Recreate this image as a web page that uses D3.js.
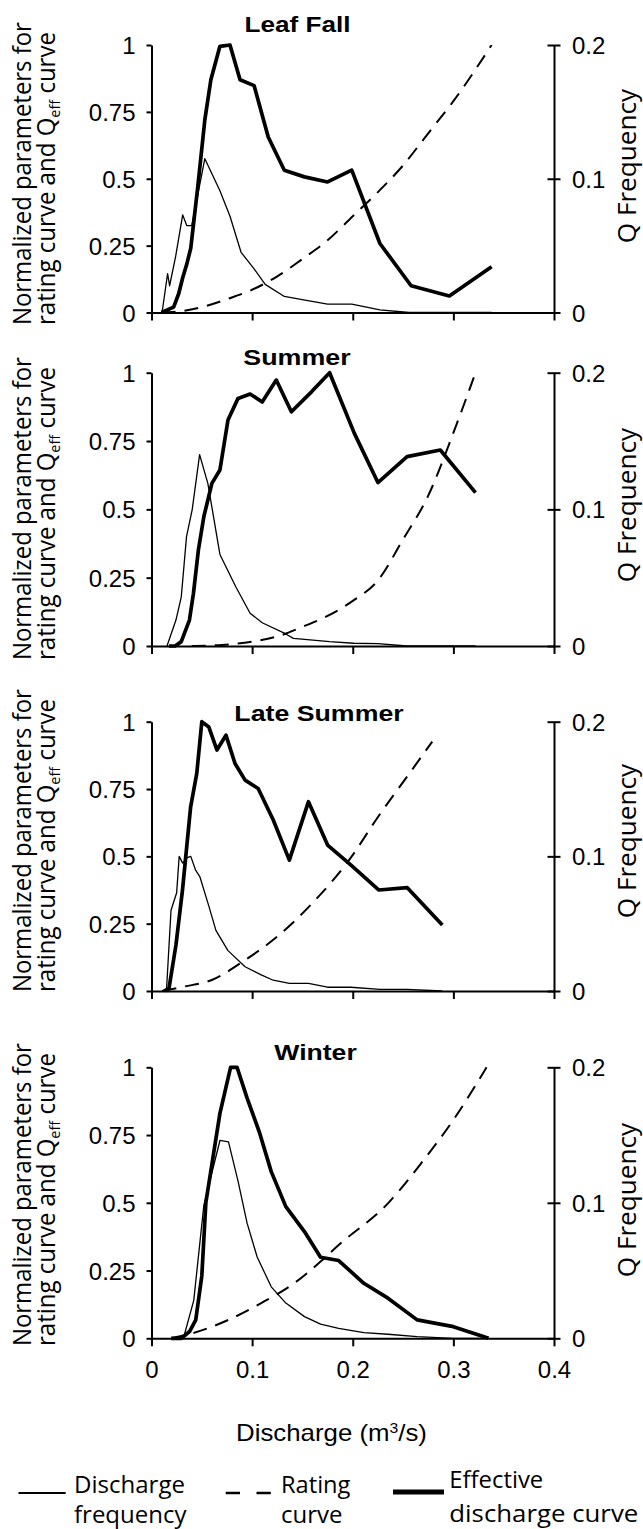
<!DOCTYPE html>
<html><head><meta charset="utf-8">
<script src="https://cdn.jsdelivr.net/npm/d3@7"></script>
<style>body{margin:0;background:#fff;} svg{display:block;}</style>
</head><body><svg id="c" width="643" height="1529"></svg>
<script>
// ---------- labels / ticks ----------
const seasons = ["Leaf Fall", "Summer", "Late Summer", "Winter"];
const xTicks = [0, 0.1, 0.2, 0.3, 0.4];
const xTickLabels = ["0", "0.1", "0.2", "0.3", "0.4"];
const yLeftTicks = [0, 0.25, 0.5, 0.75, 1];
const yLeftTickLabels = ["0", "0.25", "0.5", "0.75", "1"];
const yRightTicks = [0, 0.1, 0.2];
const yRightTickLabels = ["0", "0.1", "0.2"];
const legendLabels = [["Discharge", "frequency"], ["Rating", "curve"], ["Effective", "discharge curve"]];

// ---------- Leaf Fall ----------
const leafEffQ = [0.01, 0.022, 0.027, 0.031, 0.035, 0.039, 0.046, 0.053, 0.059, 0.068, 0.078, 0.088, 0.102, 0.116, 0.132, 0.152, 0.175, 0.199, 0.227, 0.258, 0.296, 0.338];
const leafEff  = [0, 0.02, 0.07, 0.13, 0.18, 0.24, 0.47, 0.72, 0.87, 0.995, 1.0, 0.87, 0.848, 0.656, 0.532, 0.507, 0.488, 0.532, 0.258, 0.1, 0.062, 0.171];
const leafFreqQ = [0.0105, 0.016, 0.018, 0.024, 0.031, 0.035, 0.040, 0.053, 0.068, 0.078, 0.089, 0.1016, 0.113, 0.132, 0.154, 0.175, 0.199, 0.227, 0.256, 0.338];
const leafFreq  = [0, 0.029, 0.020, 0.042, 0.073, 0.065, 0.065, 0.115, 0.091, 0.072, 0.045, 0.033, 0.021, 0.012, 0.009, 0.0062, 0.0062, 0.002, 0, 0];
const leafRateQ = [0.01, 0.03, 0.05, 0.075, 0.1, 0.125, 0.15, 0.175, 0.2, 0.225, 0.25, 0.275, 0.3, 0.338];
const leafRate  = [0, 0.005, 0.02, 0.05, 0.085, 0.135, 0.2, 0.27, 0.36, 0.45, 0.55, 0.67, 0.79, 1.0];

// ---------- Summer ----------
const sumEffQ = [0.0174, 0.0235, 0.0296, 0.0377, 0.0417, 0.0466, 0.052, 0.06, 0.068, 0.076, 0.086, 0.098, 0.110, 0.124, 0.139, 0.159, 0.177, 0.2016, 0.225, 0.254, 0.287, 0.322];
const sumEff  = [0, 0, 0.016, 0.095, 0.193, 0.351, 0.473, 0.595, 0.644, 0.827, 0.906, 0.922, 0.893, 0.973, 0.857, 0.93, 1.0, 0.778, 0.598, 0.693, 0.717, 0.561];
const sumFreqQ = [0.0154, 0.0243, 0.0296, 0.0348, 0.0405, 0.0478, 0.056, 0.068, 0.084, 0.098, 0.110, 0.133, 0.141, 0.177, 0.201, 0.225, 0.254, 0.322];
const sumFreq  = [0, 0.019, 0.036, 0.08, 0.1, 0.14, 0.119, 0.067, 0.043, 0.024, 0.017, 0.009, 0.0056, 0.0032, 0.002, 0.0017, 0, 0];
const sumRateQ = [0.04, 0.07, 0.1, 0.125, 0.15, 0.175, 0.2, 0.225, 0.25, 0.275, 0.3, 0.322];
const sumRate  = [0, 0.004, 0.016, 0.035, 0.07, 0.11, 0.165, 0.24, 0.39, 0.55, 0.78, 1.0];

// ---------- Late Summer ----------
const lateEffQ = [0.0134, 0.0174, 0.0243, 0.0308, 0.0389, 0.045, 0.050, 0.057, 0.065, 0.074, 0.083, 0.093, 0.106, 0.121, 0.137, 0.156, 0.175, 0.198, 0.226, 0.254, 0.289];
const lateEff  = [0, 0.01, 0.171, 0.375, 0.684, 0.808, 1.0, 0.98, 0.895, 0.95, 0.845, 0.783, 0.752, 0.635, 0.486, 0.703, 0.542, 0.468, 0.375, 0.384, 0.245];
const lateFreqQ = [0.0105, 0.015, 0.0194, 0.025, 0.0275, 0.031, 0.0356, 0.039, 0.0437, 0.048, 0.057, 0.064, 0.076, 0.093, 0.109, 0.121, 0.137, 0.156, 0.175, 0.198, 0.227, 0.254, 0.289];
const lateFreq  = [0, 0.002, 0.06, 0.073, 0.1, 0.095, 0.099, 0.1, 0.09, 0.085, 0.063, 0.045, 0.03, 0.018, 0.012, 0.008, 0.0056, 0.0056, 0.0028, 0.0028, 0.0012, 0.0012, 0];
const lateRateQ = [0.011, 0.032, 0.06, 0.093, 0.121, 0.158, 0.199, 0.223, 0.254, 0.279];
const lateRate  = [0, 0.016, 0.041, 0.115, 0.19, 0.319, 0.5, 0.635, 0.796, 0.926];

// ---------- Winter ----------
const winEffQ = [0.0195, 0.0297, 0.0378, 0.044, 0.050, 0.054, 0.068, 0.0786, 0.085, 0.095, 0.107, 0.119, 0.1335, 0.152, 0.168, 0.186, 0.211, 0.235, 0.264, 0.3, 0.335];
const winEff  = [0, 0, 0.025, 0.068, 0.23, 0.5, 0.83, 1.0, 1.0, 0.886, 0.763, 0.615, 0.486, 0.394, 0.299, 0.287, 0.203, 0.148, 0.068, 0.043, 0];
const winFreqQ = [0.0195, 0.032, 0.042, 0.052, 0.068, 0.0765, 0.086, 0.095, 0.105, 0.119, 0.1335, 0.152, 0.168, 0.186, 0.211, 0.235, 0.264, 0.3, 0.335];
const winFreq  = [0, 0.0008, 0.028, 0.098, 0.146, 0.145, 0.116, 0.085, 0.06, 0.038, 0.026, 0.016, 0.0104, 0.0074, 0.0042, 0.003, 0.0012, 0, 0];
const winRateQ = [0.0195, 0.04, 0.0765, 0.109, 0.1416, 0.168, 0.186, 0.235, 0.268, 0.3, 0.333];
const winRate  = [0, 0.018, 0.068, 0.13, 0.203, 0.283, 0.344, 0.498, 0.646, 0.806, 1.0];

const seriesBySeason = [
  {eff: [leafEffQ, leafEff], freq: [leafFreqQ, leafFreq], rate: [leafRateQ, leafRate]},
  {eff: [sumEffQ, sumEff], freq: [sumFreqQ, sumFreq], rate: [sumRateQ, sumRate]},
  {eff: [lateEffQ, lateEff], freq: [lateFreqQ, lateFreq], rate: [lateRateQ, lateRate]},
  {eff: [winEffQ, winEff], freq: [winFreqQ, winFreq], rate: [winRateQ, winRate]}
];

// ---------- layout (pixels) ----------
const layout = [
  {top: 45,     bottom: 312.5,  titleX: 297.5, titleY: 31.5,  titleW: 106, ytStart: 325,  qMid: 166},
  {top: 372.7,  bottom: 646,    titleX: 297,   titleY: 365,   titleW: 108, ytStart: 660,  qMid: 505},
  {top: 721.7,  bottom: 991,    titleX: 319,   titleY: 720.7, titleW: 170, ytStart: 992,  qMid: 841},
  {top: 1067.3, bottom: 1338.3, titleX: 315.5, titleY: 1060,  titleW: 83,  ytStart: 1346, qMid: 1200}
];
const X0 = 151.5, X1 = 554;
const ARIAL = "'Liberation Sans', Arial, Helvetica, sans-serif";
const MYRIAD = "'Open Sans', 'Noto Sans', sans-serif";

const svg = d3.select("#c");
const x = d3.scaleLinear().domain([0, 0.4]).range([X0, X1]);

function fit(sel, target) {
  const w = sel.node().getBBox().width;
  if (w > 0) sel.attr("transform", `scale(${target / w},1)`);
}
function styleAxis(g) {
  g.selectAll("path.domain").attr("stroke", "#000").attr("stroke-width", 2);
  g.selectAll(".tick line").attr("stroke", "#000").attr("stroke-width", 2);
  g.selectAll(".tick text").attr("fill", "#000")
    .style("font-family", ARIAL).style("font-size", "24px");
  g.attr("font-family", null).attr("font-size", null);
}

seasons.forEach((name, i) => {
  const L = layout[i];
  const s = seriesBySeason[i];
  const yL = d3.scaleLinear().domain([0, 1]).range([L.bottom, L.top]);
  const yR = d3.scaleLinear().domain([0, 0.2]).range([L.bottom, L.top]);
  const g = svg.append("g");

  // axes
  const ax = g.append("g").attr("transform", `translate(${X0},0)`)
    .call(d3.axisLeft(yL).tickValues(yLeftTicks).tickFormat((d, k) => yLeftTickLabels[k])
      .tickSize(5).tickSizeOuter(0).tickPadding(11));
  styleAxis(ax);
  ax.selectAll(".tick text").attr("dy", "0.36em");

  const ar = g.append("g").attr("transform", `translate(${X1},0)`)
    .call(d3.axisRight(yR).tickValues(yRightTicks).tickFormat((d, k) => yRightTickLabels[k])
      .tickSize(6.5).tickSizeOuter(0).tickPadding(12));
  styleAxis(ar);
  ar.selectAll(".tick line").attr("x1", -6.5).attr("x2", 6.5);
  ar.selectAll(".tick text").attr("x", 18).attr("dy", "0.36em");

  const ab = g.append("g").attr("transform", `translate(0,${L.bottom})`)
    .call(d3.axisBottom(x).tickValues(xTicks)
      .tickFormat((d, k) => i === 3 ? xTickLabels[k] : "")
      .tickSize(8).tickSizeOuter(0).tickPadding(15));
  styleAxis(ab);

  // curves
  const mk = (ys) => d3.line().x(d => x(d[0])).y(d => ys(d[1]));
  const pts = (arr) => arr[0].map((q, k) => [q, arr[1][k]]);

  g.append("path").datum(pts(s.freq)).attr("d", mk(yR))
    .attr("fill", "none").attr("stroke", "#000").attr("stroke-width", 1.3)
    .attr("stroke-linejoin", "round");
  g.append("path").datum(pts(s.rate)).attr("d", mk(yL).curve(d3.curveMonotoneX))
    .attr("fill", "none").attr("stroke", "#000").attr("stroke-width", 2)
    .attr("stroke-dasharray", "14,9");
  g.append("path").datum(pts(s.eff)).attr("d", mk(yL))
    .attr("fill", "none").attr("stroke", "#000").attr("stroke-width", 3.7)
    .attr("stroke-linejoin", "round").attr("stroke-linecap", "butt");

  // title
  const t = g.append("g").attr("transform", `translate(${L.titleX},${L.titleY})`)
    .append("text").attr("text-anchor", "middle")
    .style("font-family", ARIAL).style("font-weight", "bold").style("font-size", "22px")
    .text(name);
  fit(t, L.titleW);

  // left y title (two lines, rotated)
  const yt1 = g.append("g").attr("transform", `translate(31,${L.ytStart}) rotate(-90)`)
    .append("text").attr("text-anchor", "start")
    .style("font-family", MYRIAD).style("font-size", "25px").text("Normalized parameters for");
  fit(yt1, 303);
  const yt2 = g.append("g").attr("transform", `translate(55,${L.ytStart}) rotate(-90)`)
    .append("text").attr("text-anchor", "start")
    .style("font-family", MYRIAD).style("font-size", "25px");
  yt2.append("tspan").text("rating curve and Q");
  yt2.append("tspan").attr("dy", 5).style("font-size", "15px").text("eff");
  yt2.append("tspan").attr("dy", -5).text(" curve");
  fit(yt2, 293);

  // right y title
  const qt = g.append("g").attr("transform", `translate(636,${L.qMid}) rotate(-90)`)
    .append("text").attr("text-anchor", "middle")
    .style("font-family", MYRIAD).style("font-size", "25px").text("Q Frequency");
  fit(qt, 155);
});

// x axis title
const xt = svg.append("g").attr("transform", "translate(331.5,1441)")
  .append("text").attr("text-anchor", "middle")
  .style("font-family", ARIAL).style("font-size", "23px");
xt.append("tspan").text("Discharge (m");
xt.append("tspan").attr("dy", -8).style("font-size", "14px").text("3");
xt.append("tspan").attr("dy", 8).text("/s)");
fit(xt, 191);

// legend
const lg = svg.append("g");
lg.append("line").attr("x1", 18.5).attr("x2", 65.7).attr("y1", 1493).attr("y2", 1493)
  .attr("stroke", "#000").attr("stroke-width", 2);
lg.append("line").attr("x1", 225.7).attr("x2", 273).attr("y1", 1493).attr("y2", 1493)
  .attr("stroke", "#000").attr("stroke-width", 2.6).attr("stroke-dasharray", "14.3,16.5");
lg.append("line").attr("x1", 393).attr("x2", 444).attr("y1", 1492).attr("y2", 1492)
  .attr("stroke", "#000").attr("stroke-width", 5);

const legendPos = [
  {x: 74, y1: 1493, y2: 1523, w1: 111, w2: 113},
  {x: 281, y1: 1493, y2: 1523, w1: 70, w2: 61.6},
  {x: 449.3, y1: 1488, y2: 1522, w1: 94, w2: 189}
];
legendLabels.forEach((lines, k) => {
  const p = legendPos[k];
  lines.forEach((txt, j) => {
    const tt = lg.append("g").attr("transform", `translate(${p.x},${j === 0 ? p.y1 : p.y2})`)
      .append("text").attr("text-anchor", "start")
      .style("font-family", MYRIAD).style("font-size", "23px").text(txt);
    fit(tt, j === 0 ? p.w1 : p.w2);
  });
});
</script></body></html>
